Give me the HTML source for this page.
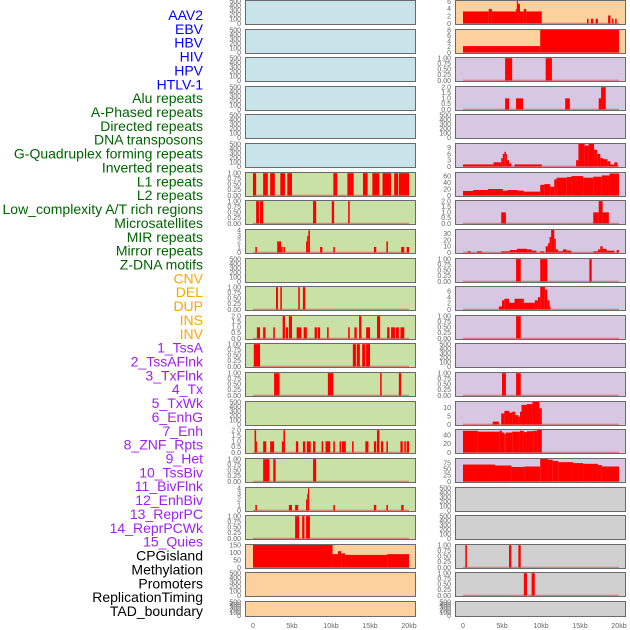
<!DOCTYPE html>
<html><head><meta charset="utf-8"><style>
html,body{margin:0;padding:0;background:#fff;width:630px;height:630px;overflow:hidden}
svg{display:block}
.lab{font-family:"Liberation Sans",sans-serif;font-size:14px}
.tk{font-family:"Liberation Sans",sans-serif;font-size:7px;fill:#666}
.xt{font-family:"Liberation Sans",sans-serif;font-size:7px;fill:#666}
</style></head><body>
<svg id="chart" width="630" height="630" viewBox="0 0 630 630"></svg>
<script>
const labels = ["AAV2","EBV","HBV","HIV","HPV","HTLV-1","Alu repeats","A-Phased repeats","Directed repeats","DNA transposons","G-Quadruplex forming repeats","Inverted repeats","L1 repeats","L2 repeats","Low_complexity A/T rich regions","Microsatellites","MIR repeats","Mirror repeats","Z-DNA motifs","CNV","DEL","DUP","INS","INV","1_TssA","2_TssAFlnk","3_TxFlnk","4_Tx","5_TxWk","6_EnhG","7_Enh","8_ZNF_Rpts","9_Het","10_TssBiv","11_BivFlnk","12_EnhBiv","13_ReprPC","14_ReprPCWk","15_Quies","CPGisland","Methylation","Promoters","ReplicationTiming","TAD_boundary"];
const labelGroups = [6,13,5,15,5];
const groupColors = ["#0000ff","#006400","#ffa500","#a020f0","#000000"];
const xTicks = [0,5,10,15,20];
const xTickLabels = ["0","5kb","10kb","15kb","20kb"];
const E = [0,100,200,300,400,500];
const U = [0,0.25,0.5,0.75,1];
const D = [0,0.5,1,1.5,2];
const col1Bg = ["b","b","b","b","b","b","g","g","g","g","g","g","g","g","g","g","g","g","g","o","o","o"];
const col2Bg = ["o","o","p","p","p","p","p","p","p","p","p","p","p","p","p","p","p","y","y","y","y","y"];
const col1Ticks = [E,E,E,E,E,E,U,U,[0,1,2,3,4],E,U,D,U,U,E,D,U,[0,1,2,3,4],U,[0,50,100,150],E,E];
const col2Ticks = [[0,2,4,6],[0,2,4,6,8],U,D,E,[0,3,6,9],[0,20,40,60],D,[0,10,20,30],U,[0,2,4,6],U,E,U,[0,5,10],[0,20,40],[0,25,50,75],E,E,U,U,E];
const col1Top = [520,520,520,520,520,520,1.03,1.03,4.15,520,1.03,2.06,1.03,1.03,520,2.06,1.03,4.15,1.03,155,520,520];
const col2Top = [6.3,8.25,1.03,2.06,520,11,71,2.06,37,1.03,7.5,1.03,520,1.03,13.5,53,95,520,520,1.03,1.03,520];
const col1Segs = [[],[],[],[],[],[],
 [[0,0.4,1],[1.3,1.9,1],[2.2,2.8,1],[3.5,4.1,1],[4.4,5,1],[10.3,10.8,1],[12.1,12.9,1],[14.1,14.7,1],[15.3,16.2,1],[16.6,17.7,1],[18.1,18.6,1],[18.7,20,1]],
 [[0.4,0.8,1],[0.9,1.3,1],[7.7,8.1,1],[10.1,10.4,1],[12.2,12.4,1]],
 [[0.3,0.5,1],[3.1,3.6,2],[3.6,3.8,1],[3.9,4.1,1],[6.8,6.95,2],[6.95,7.1,3],[7.1,7.3,4],[8.6,8.9,1],[10.3,10.5,1],[15.5,15.8,1],[17.1,17.3,2],[19,19.4,1],[19.7,20,1]],
 [],
 [[2.95,3.2,1],[3.5,3.7,1],[5.8,6,1],[6.4,6.7,1]],
 [[0.5,0.9,1],[1.3,1.6,1],[2.6,2.8,1],[3.8,4.1,2],[4.2,4.5,1],[4.6,5,2],[5.6,6.2,1],[6.5,6.9,1],[7.9,8.2,1],[8.3,8.6,1],[9.5,9.7,1],[12.2,12.4,1],[13,13.3,1],[13.6,13.9,2],[14.5,15,1],[15.9,16.3,2],[17.2,17.5,1],[17.7,18.2,1],[18.3,18.7,1],[18.9,19.4,1]],
 [[0.1,0.9,1],[12.8,13.2,1],[13.3,13.7,1],[14,14.4,1],[14.5,15,1]],
 [[2.7,3.4,1],[9.6,10.3,1],[16.3,16.5,1],[18.7,19,1]],
 [],
 [[0.2,0.4,2],[0.4,0.5,1],[1.3,1.7,1],[2.2,2.7,1],[3.7,3.9,1],[3.9,4.1,2],[5.5,5.8,1],[6.4,6.7,1],[6.9,7.4,1],[7.7,8,1],[8.8,9,1],[9.3,9.9,1],[10.3,10.5,1],[11.1,11.3,1],[11.4,11.9,1],[12.7,12.9,1],[14.4,14.8,1],[15.5,15.8,1],[15.9,16.2,2],[16.4,16.7,1],[17.1,17.3,1],[18.9,19.2,1],[19.4,19.6,1],[19.7,20,1]],
 [[1.3,2.1,1],[2.6,2.9,1],[7.7,8.1,1]],
 [[0.3,0.5,1],[4.6,5,1],[5.4,5.8,1],[6.8,6.95,2],[6.95,7.05,3],[7.05,7.2,4],[10.3,10.5,1],[15.5,15.8,1],[17.1,17.3,1],[19,19.3,1]],
 [[5.4,5.9,1],[6.3,6.6,1],[6.8,7.3,1]],
 [[0,10.2,155],[10.2,10.9,90],[10.9,11.3,110],[11.3,11.8,95],[11.8,17.2,85],[17.2,20,90]],
 [],[]];
const col2Segs = [
 [[0,3.3,3.3],[3.3,3.7,4],[3.7,6.8,3.3],[6.8,6.9,4],[6.9,7.05,6.3],[7.05,7.3,5.4],[7.3,7.8,3.3],[7.8,8.1,4],[8.1,10.1,3.3],[15.9,16.1,1.3],[16.4,16.7,1.3],[17,17.3,1.3],[18.6,18.9,2.2],[19.1,19.3,1.3],[19.5,19.7,1.3]],
 [[0,9.9,2.3],[9.9,20,8.25]],
 [[5.4,6.3,1],[10.6,11.4,1]],
 [[5.4,5.9,1],[6.8,7.7,1],[13.1,13.7,1],[17.4,17.7,1],[17.7,18.3,2]],
 [],
 [[0,3.9,1],[3.9,4.9,2],[4.9,5.1,4],[5.1,5.3,6],[5.3,5.5,7],[5.5,5.6,6],[5.6,5.9,3],[5.9,6.2,1.5],[6.6,10.1,1],[14.5,14.8,3],[14.8,15.6,11],[15.6,16.1,10],[16.1,16.8,11],[16.8,17.2,8],[17.2,17.6,6],[17.6,18,4],[18,18.5,3.5],[18.5,18.9,2.5],[18.9,19.4,1],[19.4,19.8,2]],
 [[0,1.3,14],[1.3,3.2,17],[3.2,5.1,20],[5.1,5.7,15],[5.7,7,17],[7,7.8,15],[7.8,9.9,12],[9.9,10.4,33],[10.4,11.2,35],[11.2,11.7,27],[11.7,12,50],[12,13.3,55],[13.3,13.9,57],[13.9,15.4,60],[15.4,16.7,55],[16.7,17.8,58],[17.8,18.8,62],[18.8,20,68]],
 [[4.9,5.5,1],[16.7,17.4,1],[17.4,17.9,2],[17.9,18.7,1]],
 [[0.6,1,2],[1.8,2.4,2],[4.9,6,2],[6,6.9,4],[6.9,8.2,6],[8.2,8.8,5],[8.8,9.4,3],[9.9,10.4,2],[10.6,10.9,10],[10.9,11.1,15],[11.1,11.3,25],[11.3,11.7,37],[11.7,11.9,22],[11.9,12.2,5],[12.2,12.8,2],[12.8,13.3,5],[13.3,13.9,3],[16.7,17.3,2],[17.3,17.6,5],[17.6,17.9,10],[17.9,18.4,6],[18.4,19.4,3],[19.7,20,4]],
 [[6.8,7.4,1],[9.9,10.8,1],[16.2,16.5,1]],
 [[4.6,5,1],[5,5.3,3],[5.3,5.9,3.5],[5.9,6.6,2.2],[6.6,7.8,3.5],[7.8,9.2,2.2],[9.2,9.6,3],[9.6,9.9,4],[9.9,10.5,7.5],[10.5,10.8,6.5],[10.8,11.1,3],[11.1,11.2,1]],
 [[6.8,7.4,1]],
 [],
 [[5,5.5,1],[6.8,7.4,1]],
 [[3.8,4.6,1.7],[4.9,5.3,6.5],[5.3,5.9,8],[5.9,6.3,7],[6.3,6.7,7.5],[6.7,7.1,5.5],[7.1,7.3,4.5],[7.3,7.5,7.5],[7.5,8.2,11.5],[8.2,8.9,12],[8.9,9.8,13.5],[9.8,10.1,9.5]],
 [[0,1.9,50],[1.9,4.7,48],[4.7,5,50],[5,5.3,46],[5.3,5.5,43],[5.5,6.3,46],[6.3,7.3,48],[7.3,7.8,50],[7.8,8.2,47],[8.2,9,49],[9,9.5,50],[9.5,10.1,52]],
 [[0,4.1,70],[4.1,6.2,66],[6.2,7.9,60],[7.9,9.9,62],[9.9,10.9,95],[10.9,11.5,90],[11.5,12.2,85],[12.2,14.1,80],[14.1,15.4,76],[15.4,17.3,73],[17.3,17.8,68],[17.8,20,62]],
 [],[],
 [[0.3,0.5,1],[5.9,6.2,1],[7.1,7.4,1]],
 [[7.8,8.2,1],[8.8,9.2,1]],
 []];

const NS = "http://www.w3.org/2000/svg";
const svg = document.getElementById("chart");
const bgColors = {b:"#c8e3ea",g:"#c9e1a5",o:"#fdd19e",p:"#d7c7e2",y:"#d0d0d0"};
const colX = [245,455];
const panelW = 171;
function mk(tag, attrs, parent){const e=document.createElementNS(NS,tag);for(const k in attrs)e.setAttribute(k,attrs[k]);(parent||svg).appendChild(e);return e;}
function rowTop(i){return Math.round(i*28.62);}
function rowH(i){return i===21?16:25;}
function xScale(c,kb){return colX[c]+8+kb*7.8;}
function fmt(ticks,v){const mx=ticks[ticks.length-1];if(mx===1)return v.toFixed(2);if(mx===2)return v.toFixed(1);return String(v);}

let li=0;
labelGroups.forEach((n,g)=>{for(let j=0;j<n;j++){const y=20+li*13.86;const t=mk("text",{x:203,y:y.toFixed(1),"text-anchor":"end",class:"lab",fill:groupColors[g]});t.textContent=labels[li];


li++;}});

const allSegs=[col1Segs,col2Segs], allTicks=[col1Ticks,col2Ticks], allTop=[col1Top,col2Top], allBg=[col1Bg,col2Bg];
for(let c=0;c<2;c++){
 for(let r=0;r<22;r++){
  const top=rowTop(r), h=rowH(r), x0=colX[c];
  const g=mk("g",{});
  
  
  mk("rect",{x:x0,y:top,width:panelW,height:h,fill:bgColors[allBg[c][r]]},g);
  const ybot=top+h-1.5, ytop=top+0.5, tmax=allTop[c][r];
  const yS=v=>ybot-(v/tmax)*(ybot-ytop);
  const segs=allSegs[c][r];
  if(segs.length){
   const bl=mk("rect",{x:xScale(c,0),y:ybot-0.8,width:xScale(c,20)-xScale(c,0),height:1.2,fill:"#d06060",opacity:0.7},g);
   
   
  }
  segs.forEach(s=>{
   const x1=xScale(c,s[0]),x2=xScale(c,s[1]),yy=Math.max(yS(s[2]),top+0.5);
   const b=mk("rect",{x:x1.toFixed(2),y:yy.toFixed(2),width:Math.max(1,x2-x1).toFixed(2),height:(ybot-yy).toFixed(2),fill:"#ff0000"},g);
   
   
  });
  mk("rect",{x:x0+0.5,y:top+0.5,width:panelW-1,height:h-1,fill:"none",stroke:"#6a6a6a","stroke-width":1},g);
  const ticks=allTicks[c][r];
  const tm=(ticks===E)?ticks[ticks.length-1]*1.04:tmax;
  ticks.forEach(v=>{
   const y=ybot-(v/tm)*(ybot-ytop);
   const t=mk("text",{x:x0-4,y:(y+2.3).toFixed(1),"text-anchor":"end",class:"tk"},g);
   t.textContent=fmt(ticks,v);
   
   
  });
 }
 xTicks.forEach((v,i)=>{
  const t=mk("text",{x:xScale(c,v).toFixed(1),y:628,"text-anchor":"middle",class:"xt"});
  t.textContent=xTickLabels[i];
  
  
 });
}
</script>
</body></html>
